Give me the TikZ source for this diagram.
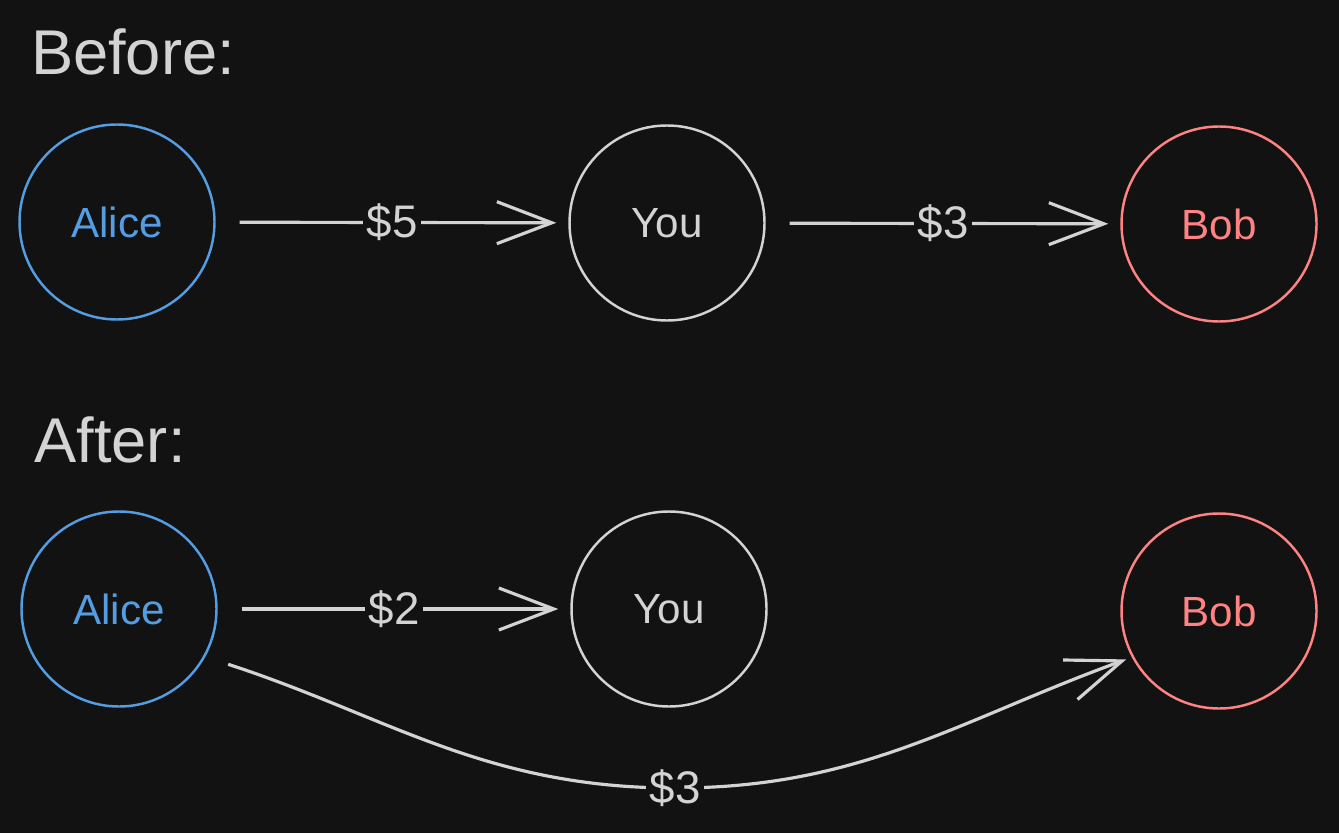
\documentclass[tikz,border=0pt]{standalone}
\usepackage{fontspec}
\setmainfont{Liberation Sans}
\usepackage{xcolor}
\usetikzlibrary{arrows.meta}
\definecolor{mybg}{RGB}{18,18,18}
\definecolor{mygray}{RGB}{211,211,211}
\definecolor{myblue}{RGB}{84,157,227}
\definecolor{myred}{RGB}{255,131,131}

\begin{document}
\begin{tikzpicture}[x=0.1mm, y=0.1mm,
  person/.style={circle, draw, line width=0.7pt, minimum size=19.5mm, font=\fontsize{12}{14}\selectfont},
  link/.style={draw=mygray, line width=0.9pt, -{Straight Barb[length=5.5mm,width=4.2mm]}, shorten <=2.4mm, shorten >=1.2mm},
  amount/.style={fill=mybg, text=mygray, inner sep=1pt, font=\fontsize{13}{15}\selectfont},
  heading/.style={text=mygray, font=\fontsize{18}{20}\selectfont}]

  \fill[mybg] (0,0) rectangle (1339,833);
  \useasboundingbox (0,0) rectangle (1339,833);

%before:
  \node[heading] (before) at (133,781) {Before:};
  \node[person, draw=myblue, text=myblue] (alice1) at (117,611) {Alice};
  \node[person, draw=mygray, text=mygray] (you1) at (667,610) {You};
  \node[person, draw=myred, text=myred] (bob1) at (1219,609) {Bob};

  \draw[link] (alice1) -- node[amount]{\$5} (you1);
  \draw[link] (you1) -- node[amount]{\$3} (bob1);

%after:
  \node[heading] (after) at (110,393) {After:};
  \node[person, draw=myblue, text=myblue] (alice2) at (119,224) {Alice};
  \node[person, draw=mygray, text=mygray] (you2) at (669,224) {You};
  \node[person, draw=myred, text=myred] (bob2) at (1219,222) {Bob};
  \coordinate (low) at (675,45);

  \draw[link] (alice2) -- node[amount]{\$2} (you2);
  \draw[link, shorten >=0.6mm] (alice2.-29) to[out=-18, in=180] (low) node[amount]{\$3} to[out=0, in=200] (bob2.208);
\end{tikzpicture}
\end{document}
